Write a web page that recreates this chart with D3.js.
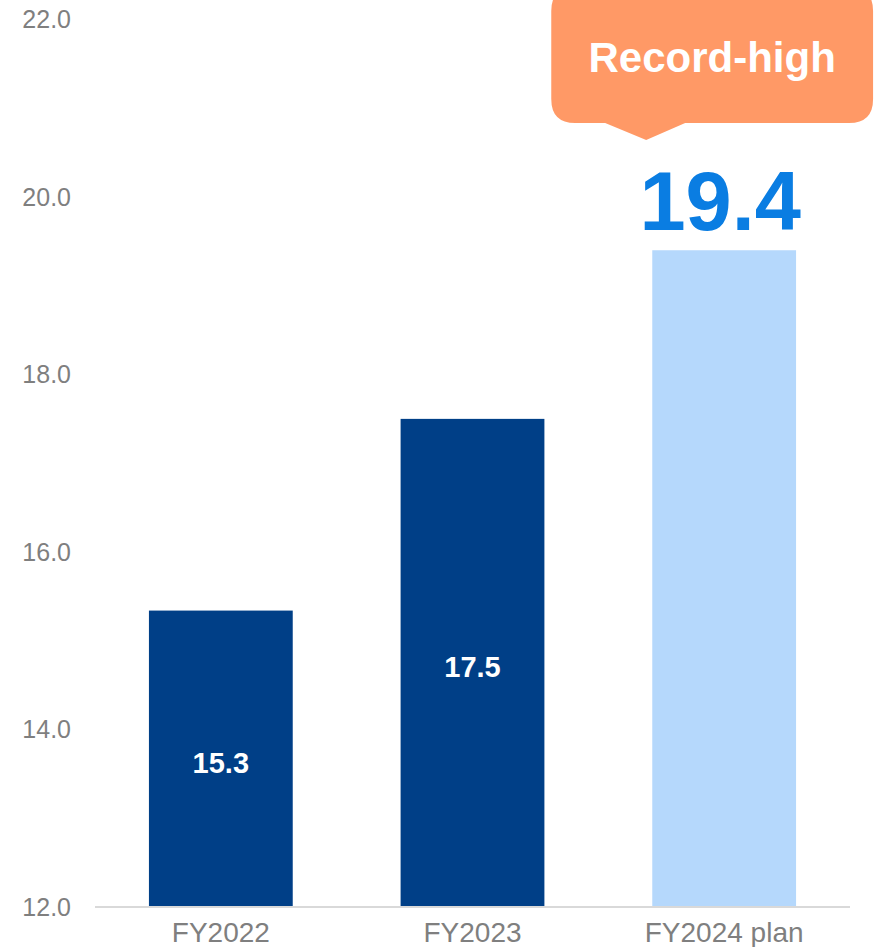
<!DOCTYPE html>
<html>
<head>
<meta charset="utf-8">
<script src="https://cdn.jsdelivr.net/npm/d3@7"></script>
<style>
  html, body { margin: 0; padding: 0; background: #fff; }
  svg { display: block; font-family: "Liberation Sans", Arial, sans-serif; }
</style>
</head>
<body>
<svg id="chart" width="874" height="947"></svg>
<script>
// Chart data
const categories = ['FY2022', 'FY2023', 'FY2024 plan'];
const values = [15.34, 17.5, 19.4];
const valueLabels = ['15.3', '17.5', '19.4'];
const yTicks = [12, 14, 16, 18, 20, 22];
const calloutText = 'Record-high';

const colors = {
  actual: '#003f87',
  plan: '#b5d8fc',
  tick: '#7f7f7f',
  axis: '#d9d9d9',
  callout: '#ff9966',
  highlight: '#0a7de2'
};

const svg = d3.select('#chart');

// Scales
const x = d3.scaleBand()
  .domain(categories)
  .range([95, 850])
  .paddingInner(0.4286)
  .paddingOuter(0.2143);

const y = d3.scaleLinear()
  .domain([12, 22])
  .range([907, 19.5]);

// Y tick labels (no gridlines)
svg.append('g')
  .attr('class', 'y-ticks')
  .selectAll('text')
  .data(yTicks)
  .join('text')
  .attr('x', 71)
  .attr('y', d => y(d))
  .attr('dy', '0.35em')
  .attr('text-anchor', 'end')
  .attr('font-size', 25)
  .attr('fill', colors.tick)
  .text(d => d.toFixed(1));

// Bars
const last = categories.length - 1;
svg.append('g')
  .attr('class', 'bars')
  .selectAll('rect')
  .data(values)
  .join('rect')
  .attr('x', (d, i) => x(categories[i]))
  .attr('y', d => y(d))
  .attr('width', x.bandwidth())
  .attr('height', d => y(12) - y(d))
  .attr('fill', (d, i) => i === last ? colors.plan : colors.actual);

// X axis line
svg.append('line')
  .attr('x1', 95)
  .attr('x2', 850)
  .attr('y1', y(12))
  .attr('y2', y(12))
  .attr('stroke', colors.axis)
  .attr('stroke-width', 2);

// X labels
svg.append('g')
  .attr('class', 'x-labels')
  .selectAll('text')
  .data(categories)
  .join('text')
  .attr('x', d => x(d) + x.bandwidth() / 2)
  .attr('y', 942)
  .attr('text-anchor', 'middle')
  .attr('font-size', 28)
  .attr('fill', colors.tick)
  .text(d => d);

// Value labels inside the actual bars
svg.append('g')
  .attr('class', 'value-labels')
  .selectAll('text')
  .data(values.slice(0, last))
  .join('text')
  .attr('x', (d, i) => x(categories[i]) + x.bandwidth() / 2)
  .attr('y', d => (y(d) + y(12)) / 2 + 4)
  .attr('dy', '0.35em')
  .attr('text-anchor', 'middle')
  .attr('font-size', 29)
  .attr('font-weight', 'bold')
  .attr('fill', '#fff')
  .text((d, i) => valueLabels[i]);

// Big highlighted value above the plan bar
const planX = x(categories[last]);
const planCx = planX + x.bandwidth() / 2;
svg.append('text')
  .attr('x', planCx - 4)
  .attr('y', y(values[last]) - 20)
  .attr('text-anchor', 'middle')
  .attr('font-size', 83)
  .attr('font-weight', 'bold')
  .attr('fill', colors.highlight)
  .text(valueLabels[last]);

// Callout bubble
const boxLeft = planX - 101;
const boxRight = planX + x.bandwidth() + 77;
const boxTop = -13;
const boxBottom = 123;
const r = 24;
const tipX = planCx - 78;
const bubble = d3.path();
bubble.moveTo(boxLeft + r, boxTop);
bubble.lineTo(boxRight - r, boxTop);
bubble.quadraticCurveTo(boxRight, boxTop, boxRight, boxTop + r);
bubble.lineTo(boxRight, boxBottom - r);
bubble.quadraticCurveTo(boxRight, boxBottom, boxRight - r, boxBottom);
bubble.lineTo(tipX + 39, boxBottom);
bubble.lineTo(tipX, 140);
bubble.lineTo(tipX - 41, boxBottom);
bubble.lineTo(boxLeft + r, boxBottom);
bubble.quadraticCurveTo(boxLeft, boxBottom, boxLeft, boxBottom - r);
bubble.lineTo(boxLeft, boxTop + r);
bubble.quadraticCurveTo(boxLeft, boxTop, boxLeft + r, boxTop);
bubble.closePath();

svg.append('path')
  .attr('d', bubble.toString())
  .attr('fill', colors.callout);

svg.append('text')
  .attr('x', (boxLeft + boxRight) / 2)
  .attr('y', 72)
  .attr('text-anchor', 'middle')
  .attr('font-size', 42)
  .attr('font-weight', 'bold')
  .attr('fill', '#fff')
  .text(calloutText);
</script>
</body>
</html>
